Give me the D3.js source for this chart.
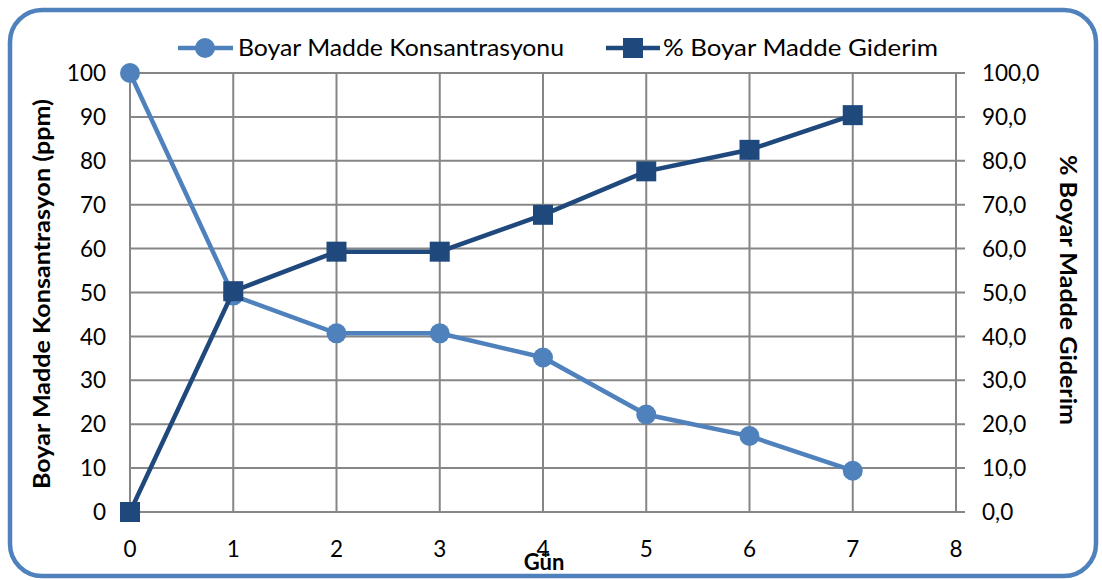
<!DOCTYPE html>
<html><head><meta charset="utf-8">
<script src="https://cdn.jsdelivr.net/npm/d3@7"></script>
<style>body{margin:0;background:#fff}svg{display:block}text{font-family:Lato,"Open Sans",sans-serif}</style>
</head><body><svg id="c" width="1102" height="580"></svg>
<script>
const days = [0,1,2,3,4,5,6,7];
const concentration = [100,49.3,40.7,40.7,35.2,22.2,17.3,9.4];
const removal = [0,50.3,59.3,59.3,67.7,77.6,82.5,90.4];
const xTicks = [0,1,2,3,4,5,6,7,8];
const leftTicks = [0,10,20,30,40,50,60,70,80,90,100];
const rightTicks = [0,10,20,30,40,50,60,70,80,90,100];
const seriesNames = ["Boyar Madde Konsantrasyonu","% Boyar Madde Giderim"];
const c1="#4F81BD", c2="#1F497D";

const svg=d3.select("#c");
svg.append("rect").attr("x",10).attr("y",10).attr("width",1086).attr("height",566).attr("rx",32)
  .attr("fill","#fff").attr("stroke",c1).attr("stroke-width",4.5);

const x=d3.scaleLinear().domain([0,8]).range([130,956]);
const yL=d3.scaleLinear().domain([0,100]).range([512,73]);
const yR=d3.scaleLinear().domain([0,100]).range([512,73]);

const g=svg.append("g");
g.selectAll(".hg").data(leftTicks).join("line").attr("x1",130).attr("x2",965)
  .attr("y1",d=>yL(d)).attr("y2",d=>yL(d)).attr("stroke","#868686").attr("stroke-width",2);
g.selectAll(".vg").data(xTicks).join("line").attr("x1",d=>x(d)).attr("x2",d=>x(d))
  .attr("y1",73).attr("y2",512).attr("stroke","#868686").attr("stroke-width",2);

const fs=22.5;
g.selectAll(".lt").data(leftTicks).join("text").attr("x",106).attr("y",d=>yL(d)).attr("dy","0.36em")
  .attr("text-anchor","end").attr("font-size",fs).text(d=>d);
g.selectAll(".rt").data(rightTicks).join("text").attr("x",982).attr("y",d=>yR(d)).attr("dy","0.36em")
  .attr("text-anchor","start").attr("font-size",fs).text(d=>d3.format(".1f")(d).replace(".",","));
g.selectAll(".xt").data(xTicks).join("text").attr("x",d=>x(d)).attr("y",549).attr("dy","0.36em")
  .attr("text-anchor","middle").attr("font-size",fs).text(d=>d);

svg.append("text").attr("transform","translate(50,294) rotate(-90)").attr("text-anchor","middle")
  .attr("font-size",22).attr("font-weight","bold").attr("textLength",390).attr("lengthAdjust","spacingAndGlyphs")
  .text("Boyar Madde Konsantrasyon (ppm)");
svg.append("text").attr("transform","translate(1060,290) rotate(90)").attr("text-anchor","middle")
  .attr("font-size",22).attr("font-weight","bold").attr("textLength",270).attr("lengthAdjust","spacingAndGlyphs")
  .text("% Boyar Madde Giderim");
svg.append("text").attr("x",544).attr("y",570).attr("text-anchor","middle")
  .attr("font-size",22).attr("font-weight","bold").text("Gün");

const l1=d3.line().x((d,i)=>x(days[i])).y(d=>yL(d));
const l2=d3.line().x((d,i)=>x(days[i])).y(d=>yR(d));
svg.append("path").attr("d",l1(concentration)).attr("fill","none").attr("stroke",c1).attr("stroke-width",4.5);
svg.selectAll(".cc").data(concentration).join("circle").attr("cx",(d,i)=>x(days[i])).attr("cy",d=>yL(d))
  .attr("r",10).attr("fill",c1);
svg.append("path").attr("d",l2(removal)).attr("fill","none").attr("stroke",c2).attr("stroke-width",4.5);
svg.selectAll(".sq").data(removal).join("rect").attr("x",(d,i)=>x(days[i])-10).attr("y",d=>yR(d)-10)
  .attr("width",20).attr("height",20).attr("fill",c2);

const lg=svg.append("g");
lg.append("line").attr("x1",178).attr("x2",233).attr("y1",48).attr("y2",48).attr("stroke",c1).attr("stroke-width",4.5);
lg.append("circle").attr("cx",205).attr("cy",48).attr("r",10).attr("fill",c1);
lg.append("text").attr("x",238).attr("y",48).attr("dy","0.36em").attr("font-size",fs)
  .attr("textLength",326).attr("lengthAdjust","spacingAndGlyphs").text(seriesNames[0]);
lg.append("line").attr("x1",606).attr("x2",660).attr("y1",48).attr("y2",48).attr("stroke",c2).attr("stroke-width",4.5);
lg.append("rect").attr("x",623).attr("y",38).attr("width",20).attr("height",20).attr("fill",c2);
lg.append("text").attr("x",663).attr("y",48).attr("dy","0.36em").attr("font-size",fs)
  .attr("textLength",275).attr("lengthAdjust","spacingAndGlyphs").text(seriesNames[1]);
</script></body></html>
